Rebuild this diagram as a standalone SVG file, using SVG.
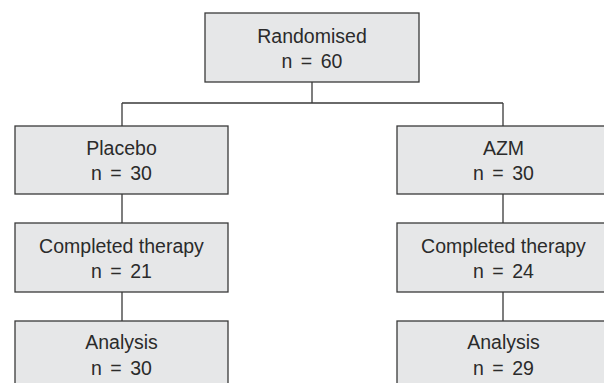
<svg xmlns="http://www.w3.org/2000/svg" width="604" height="383" viewBox="0 0 604 383">
<style>
.box{fill:#e6e7e8;stroke:#3a3a3a;stroke-width:1.3}
.t{font-family:"Liberation Sans",Arial,sans-serif;font-size:19.5px;fill:#2b2b2b;text-anchor:middle}
.n{word-spacing:3px}
.c{stroke:#3a3a3a;stroke-width:1.3;fill:none}
</style>
<rect width="604" height="383" fill="#ffffff"/>
<g id="connectors">
<path class="c" d="M312 82V103M122 103H503M122 103V126M503 103V126M122 194V223M503 194V223M122 292V321M503 292V321"/>
</g>
<g id="randomised"><rect class="box" x="205" y="13" width="214" height="69"/><text class="t" x="312" y="43">Randomised</text><text class="t n" x="312" y="68">n = 60</text></g>
<g id="placebo"><rect class="box" x="15" y="126" width="213" height="68"/><text class="t" x="121.5" y="155">Placebo</text><text class="t n" x="121.5" y="180">n = 30</text></g>
<g id="azm"><rect class="box" x="397" y="126" width="213" height="68"/><text class="t" x="503.5" y="155">AZM</text><text class="t n" x="503.5" y="180">n = 30</text></g>
<g id="completed-placebo"><rect class="box" x="15" y="223" width="213" height="69"/><text class="t" x="121.5" y="253">Completed therapy</text><text class="t n" x="121.5" y="278">n = 21</text></g>
<g id="completed-azm"><rect class="box" x="397" y="223" width="213" height="69"/><text class="t" x="503.5" y="253">Completed therapy</text><text class="t n" x="503.5" y="278">n = 24</text></g>
<g id="analysis-placebo"><rect class="box" x="15" y="321" width="213" height="69"/><text class="t" x="121.5" y="349">Analysis</text><text class="t n" x="121.5" y="375">n = 30</text></g>
<g id="analysis-azm"><rect class="box" x="397" y="321" width="213" height="69"/><text class="t" x="503.5" y="349">Analysis</text><text class="t n" x="503.5" y="375">n = 29</text></g>
</svg>
